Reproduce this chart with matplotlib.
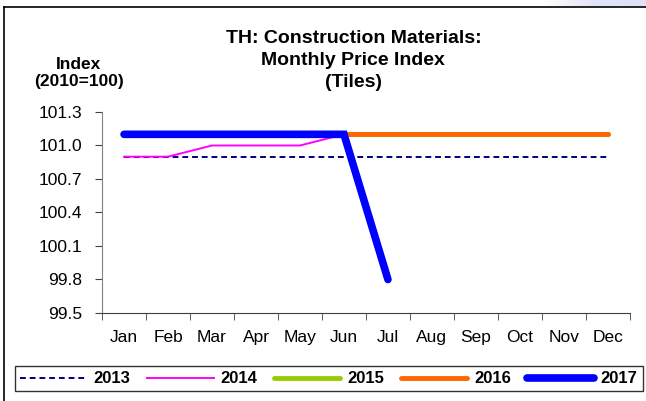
import matplotlib
matplotlib.use('Agg')
import matplotlib.pyplot as plt
from matplotlib.lines import Line2D
import numpy as np

plt.rcParams['font.family'] = ['Liberation Sans', 'DejaVu Sans']

months = ["Jan", "Feb", "Mar", "Apr", "May", "Jun", "Jul", "Aug", "Sep", "Oct", "Nov", "Dec"]
y2013 = [100.9] * 12
y2014 = [100.9, 100.9, 101.0, 101.0, 101.0, 101.1, 101.1, 101.1, 101.1, 101.1, 101.1, 101.1]
y2015 = [101.1] * 12
y2016 = [101.1] * 12
y2017 = [101.1, 101.1, 101.1, 101.1, 101.1, 101.1, 99.8]
yticks = [99.5, 99.8, 100.1, 100.4, 100.7, 101.0, 101.3]

fig = plt.figure(figsize=(6.46, 4.01), dpi=100)
ax = fig.add_axes([0.158, 0.2195, 0.817, 0.5012])

x = list(range(12))
ax.plot(x, y2013, color='#000080', lw=1.4, ls=(0, (3, 2)), label='2013')
ax.plot(x, y2014, color='#FF00FF', lw=1.4, label='2014')
ax.plot(x, y2015, color='#99CC00', lw=3.5, solid_capstyle='round', label='2015')
ax.plot(x, y2016, color='#FF6600', lw=3.5, solid_capstyle='round', label='2016')
ax.plot(range(len(y2017)), y2017, color='#0000FF', lw=5.5, solid_capstyle='round',
        solid_joinstyle='miter', label='2017')

ax.set_xlim(-0.5, 11.5)
ax.set_ylim(99.5, 101.3)
ax.set_yticks(yticks)
ax.set_yticklabels(["%.1f" % v for v in yticks], fontsize=12.5)
ax.set_xticks(x)
ax.set_xticklabels(months, fontsize=12.5)
ax.set_xticks([i - 0.5 for i in range(13)], minor=True)
ax.tick_params(axis='x', which='major', length=0, pad=12)
ax.tick_params(axis='x', which='minor', length=5, direction='out', color='#404040')
ax.tick_params(axis='y', length=5, direction='out', color='#404040', pad=9)
ax.spines['top'].set_visible(False)
ax.spines['right'].set_visible(False)
ax.spines['left'].set_color('#808080')
ax.spines['bottom'].set_color('#404040')

fig.text(0.547, 0.905, "TH: Construction Materials:", ha='center', va='center', fontsize=14, fontweight='bold')
fig.text(0.547, 0.850, "Monthly Price Index", ha='center', va='center', fontsize=14, fontweight='bold')
fig.text(0.547, 0.795, "(Tiles)", ha='center', va='center', fontsize=14, fontweight='bold')
fig.text(0.122, 0.840, "Index", ha='center', va='center', fontsize=12.5, fontweight='bold')
fig.text(0.122, 0.796, "(2010=100)", ha='center', va='center', fontsize=12.5, fontweight='bold')

# chart frame
fig.add_artist(Line2D([0.006, 1.0], [0.983, 0.983], color='black', lw=1.2, transform=fig.transFigure))
fig.add_artist(Line2D([0.006, 0.006], [0.0, 0.983], color='black', lw=1.2, transform=fig.transFigure))

# faint lavender shading above the frame at top right
gax = fig.add_axes([0.84, 0.985, 0.16, 0.015])
grad = np.linspace(0, 1, 100).reshape(1, -1)
gax.imshow(grad, aspect='auto', cmap=matplotlib.colors.LinearSegmentedColormap.from_list(
    'lav', ['#FFFFFF', '#E2E2FA', '#E0E0F8']), extent=[0, 1, 0, 1])
gax.axis('off')

leg = fig.legend(loc='center', bbox_to_anchor=(0.509, 0.055), ncol=5, frameon=True, fancybox=False,
                 handlelength=4.0, columnspacing=1.0, handletextpad=0.4, borderpad=0.3,
                 borderaxespad=0, prop={'size': 12, 'weight': 'bold'})
leg.get_frame().set_edgecolor('black')
leg.get_frame().set_linewidth(1.0)

fig.savefig('out.png', dpi=100)
